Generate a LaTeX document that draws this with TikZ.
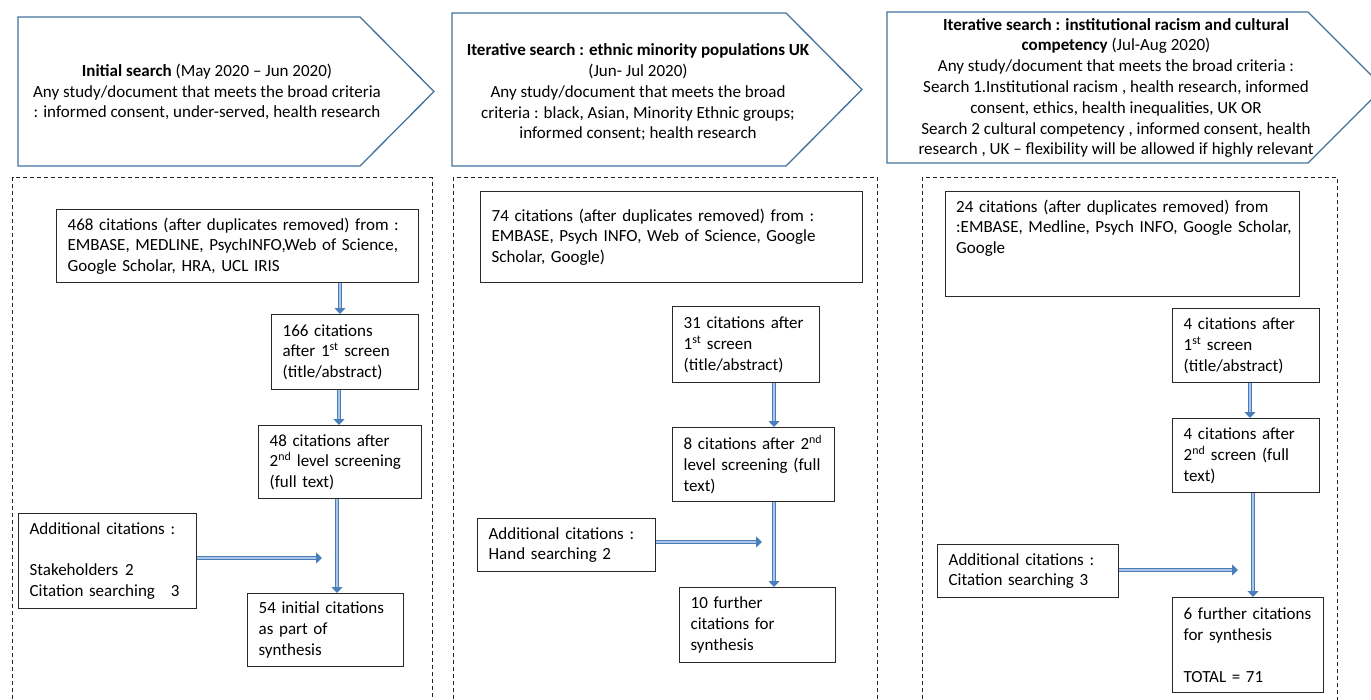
\documentclass[tikz,border=0pt]{standalone}
\usepackage{fontspec}
\setmainfont{Carlito}
\usetikzlibrary{arrows.meta,calc}
\definecolor{hdrblue}{RGB}{65,113,156}
\definecolor{arrowblue}{RGB}{74,126,187}
\definecolor{arrowfill}{RGB}{170,198,232}
\definecolor{boxline}{RGB}{40,40,40}
\begin{document}
\begin{tikzpicture}[x=1pt,y=-1pt,
  every node/.style={font=\fontsize{17}{20.8}\selectfont, text=black},
  hdrshape/.style={draw=hdrblue, line width=1.3pt, line join=miter},
  hdrtext/.style={align=center, inner sep=0pt},
  container/.style={draw=black!85, line width=1pt, dash pattern=on 4pt off 3pt},
  box/.style={draw=boxline, line width=1.3pt, anchor=north west, align=left,
    inner xsep=11pt, inner ysep=3pt},
  hollow/.style={draw=arrowblue, line width=1.3pt, double=arrowfill, double distance=2pt,
    -{Triangle[length=6pt,width=11pt]}}
]
\useasboundingbox (0,0) rectangle (1371,699);
\clip (0,0) rectangle (1371,699);

% ---------- header arrows ----------
\draw[hdrshape] (18,17) -- (360,17) -- (434,91.5) -- (360,166) -- (18,166) -- cycle;
\node[hdrtext] (h1) at (207,92) {\textbf{Initial search} (May 2020 – Jun 2020)\\Any study/document that meets the broad criteria\\: informed consent, under-served, health research};

\draw[hdrshape] (452,13) -- (786,13) -- (862,89.5) -- (786,166) -- (452,166) -- cycle;
\node[hdrtext] (h2) at (638,92.5) {\textbf{Iterative search : ethnic minority populations UK}\\(Jun- Jul 2020)\\Any study/document that meets the broad\\criteria : black, Asian, Minority Ethnic groups;\\informed consent; health research};

\draw[hdrshape] (887,12) -- (1308,12) -- (1383.5,87.5) -- (1308,163) -- (887,163) -- cycle;
\node[hdrtext] (h3) at (1116,88) {\textbf{Iterative search : institutional racism and cultural}\\\textbf{competency} (Jul-Aug 2020)\\Any study/document that meets the broad criteria :\\Search 1.Institutional racism , health research, informed\\consent, ethics, health inequalities, UK OR\\Search 2 cultural competency , informed consent, health\\research , UK – flexibility will be allowed if highly relevant};

% ---------- dashed containers ----------
\draw[container] (12.7,720) -- (12.7,177.5) -- (432,177.5) -- (432,720);
\draw[container] (453,720) -- (453,177.5) -- (877,177.5) -- (877,720);
\draw[container] (922,720) -- (922,177.5) -- (1337,177.5) -- (1337,720);

% ---------- panel 1 ----------
\node[box, minimum width=362pt, minimum height=73pt, text width=340pt] (b468) at (56,209)
  {468 citations (after duplicates removed) from :\\EMBASE, MEDLINE, PsychINFO,Web of Science,\\Google Scholar, HRA, UCL IRIS};
\node[box, minimum width=147pt, minimum height=75pt, text width=125pt] (b166) at (271,314)
  {166 citations\\after 1\textsuperscript{st} screen\\(title/abstract)};
\node[box, minimum width=163pt, minimum height=73pt, text width=141pt] (b48) at (258,425)
  {48 citations after\\2\textsuperscript{nd} level screening\\(full text)};
\node[box, minimum width=178pt, minimum height=95pt, text width=156pt] (badd1) at (18,513)
  {Additional citations :\\\mbox{}\\Stakeholders\hspace{7pt}2\\Citation searching\hspace{16pt}3};
\node[box, minimum width=156pt, minimum height=73pt, text width=134pt] (b54) at (247,593)
  {54 initial citations\\as part of\\synthesis};

\coordinate (x1a) at (340,0);
\coordinate (x1b) at (339,0);
\coordinate (x1c) at (337,0);
\coordinate (e1) at (322,558);
\draw[hollow] (b468.south -| x1a) -- (b166.north -| x1a);
\draw[hollow] (b166.south -| x1b) -- (b48.north -| x1b);
\draw[hollow] (b48.south -| x1c) -- (b54.north -| x1c);
\draw[hollow] (badd1.east |- e1) -- (e1);

% ---------- panel 2 ----------
\node[box, minimum width=382pt, minimum height=91pt, text width=360pt] (b74) at (480,191)
  {74 citations (after duplicates removed) from :\\EMBASE, Psych INFO, Web of Science, Google\\Scholar, Google)};
\node[box, minimum width=147pt, minimum height=76pt, text width=125pt] (b31) at (672,306)
  {31 citations after\\1\textsuperscript{st} screen\\(title/abstract)};
\node[box, minimum width=162pt, minimum height=74pt, text width=140pt] (b8) at (672,427)
  {8 citations after 2\textsuperscript{nd}\\level screening (full\\text)};
\node[box, minimum width=178pt, minimum height=53pt, text width=156pt] (badd2) at (477,518)
  {Additional citations :\\Hand searching 2};
\node[box, minimum width=156pt, minimum height=75pt, text width=134pt] (b10) at (679,587)
  {10 further\\citations for\\synthesis};

\coordinate (x2) at (774,0);
\coordinate (e2) at (762,542);
\draw[hollow] (b31.south -| x2) -- (b8.north -| x2);
\draw[hollow] (b8.south -| x2) -- (b10.north -| x2);
\draw[hollow] (badd2.east |- e2) -- (e2);

% ---------- panel 3 ----------
\node[box, minimum width=354pt, minimum height=105pt, text width=343pt, inner xsep=5.5pt, inner ysep=0pt] (b24) at (945,191)
  {\begin{minipage}[t][99pt][t]{343pt}\leftskip=5pt\vspace{5pt}24 citations (after duplicates removed) from\\:EMBASE, Medline, Psych INFO, Google Scholar,\\Google\end{minipage}};
\node[box, minimum width=147pt, minimum height=74pt, text width=125pt] (b4a) at (1172,308)
  {4 citations after\\1\textsuperscript{st} screen\\(title/abstract)};
\node[box, minimum width=147pt, minimum height=74pt, text width=125pt] (b4b) at (1172,418)
  {4 citations after\\2\textsuperscript{nd} screen (full\\text)};
\node[box, minimum width=181pt, minimum height=53pt, text width=159pt] (badd3) at (937,544)
  {Additional citations :\\Citation searching 3};
\node[box, minimum width=151pt, minimum height=95pt, text width=129pt] (b6) at (1172,597)
  {6 further citations\\for synthesis\\\mbox{}\\TOTAL = 71};

\coordinate (x3a) at (1250,0);
\coordinate (x3b) at (1253,0);
\coordinate (e3) at (1238,570);
\draw[hollow] (b4a.south -| x3a) -- (b4b.north -| x3a);
\draw[hollow] (b4b.south -| x3b) -- (b6.north -| x3b);
\draw[hollow] (badd3.east |- e3) -- (e3);
\end{tikzpicture}
\end{document}
